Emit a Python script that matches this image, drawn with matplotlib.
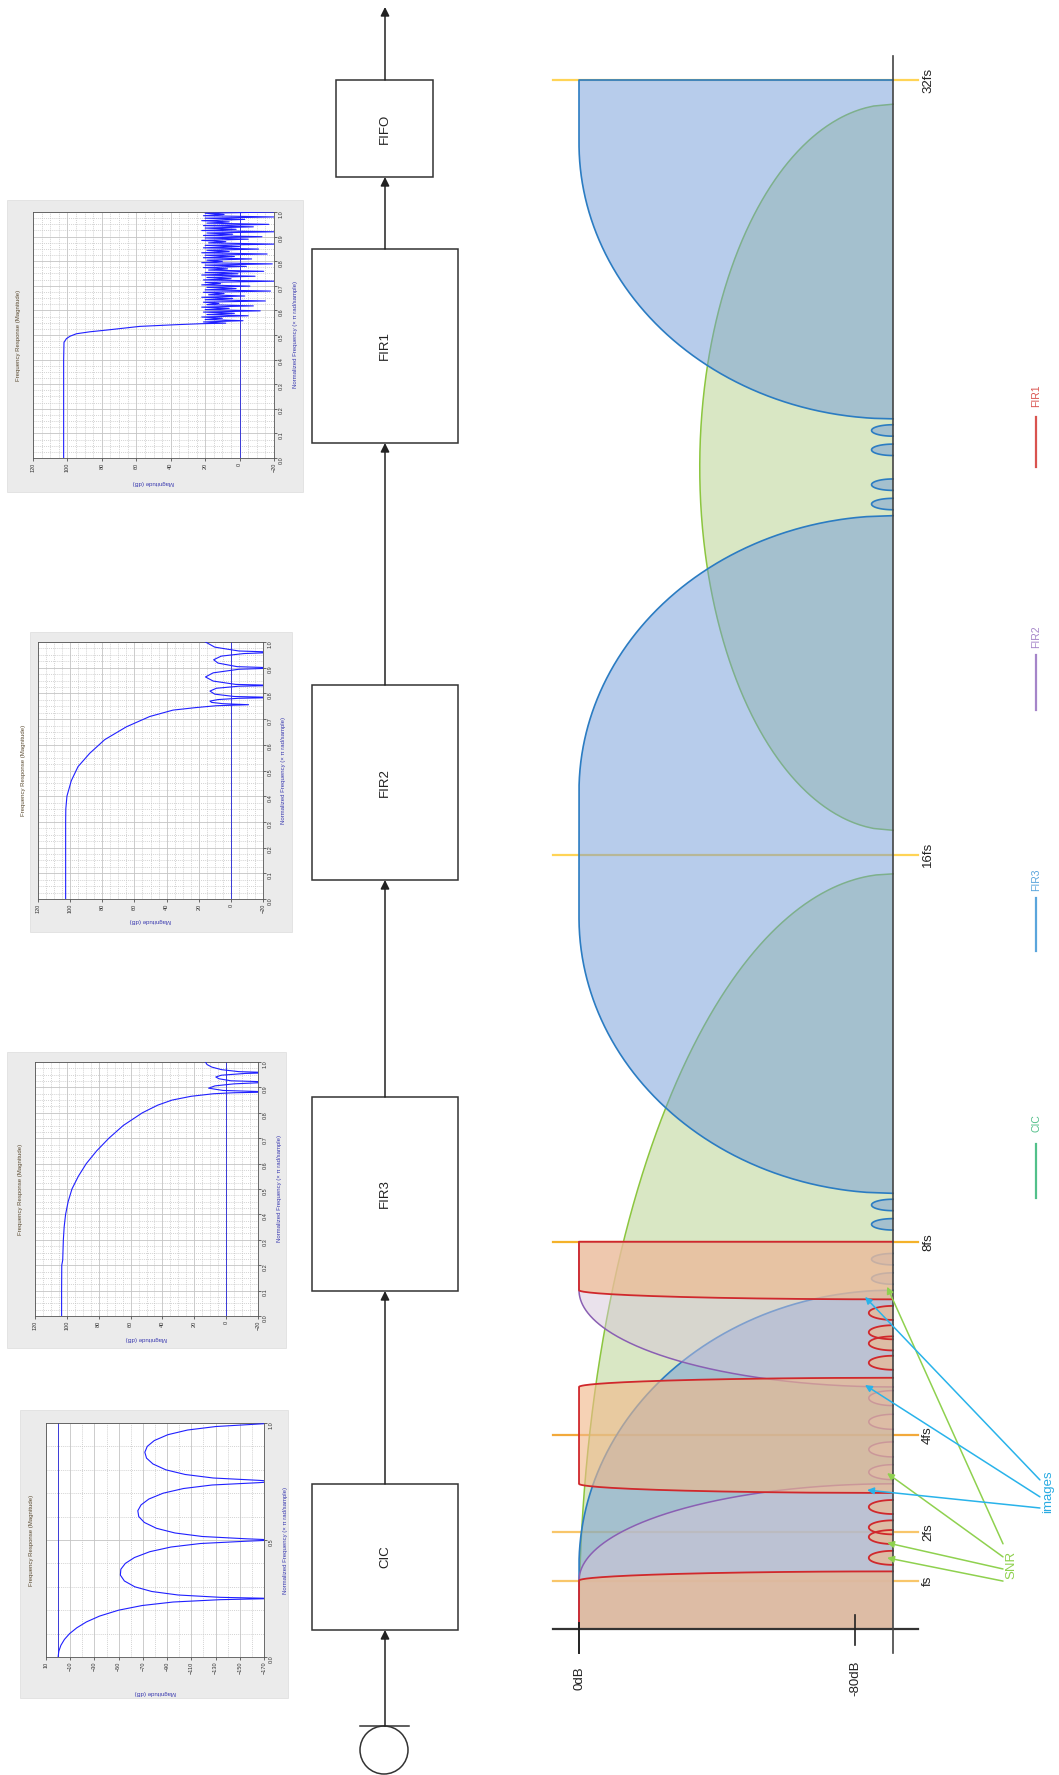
import numpy as np
import matplotlib
matplotlib.use("Agg")
import matplotlib.pyplot as plt
from matplotlib.patches import Rectangle, Circle
from matplotlib.ticker import FormatStrFormatter, MultipleLocator

plt.rcParams['font.family'] = ['Liberation Sans', 'DejaVu Sans']

W, H = 1059, 1775

# ---------------- spectrum sketch (frequency in fs, level in dB) ----------------
FLOOR = -91
freq_marks = [1, 2, 4, 8, 16, 32]
freq_labels = ['fs', '2fs', '4fs', '8fs', '16fs', '32fs']
freq_colors = ['#f8c66a', '#f8c66a', '#f2a93b', '#f4b22a', '#ffd456', '#ffd456']
level_marks = [0, -80]
level_labels = ['0dB', '-80dB']

# passband images: (centre, flat half-width, half-width at the floor)
cic_images = [(0, 0.0, 15.6)]
cic_sidelobe = (24.0, 7.5, -35)          # centre, half-width, peak level
fir3_images = [(0, 1.3, 7.0), (16, 1.3, 7.0), (32, 1.3, 7.0)]
fir2_images = [(0, 1.0, 3.0), (8, 1.0, 3.0)]
fir1_images = [(0, 1.0, 1.19), (4, 1.0, 1.19), (8, 1.0, 1.19)]
# small stopband lobes sitting on the floor
fir3_lobes = [7.24, 7.64, 8.36, 8.76, 23.24, 23.64, 24.36, 24.76]
fir2_lobes = [3.24, 3.71, 4.28, 4.77]
fir1_lobes = [1.47, 1.90, 2.10, 2.52, 5.50, 5.90, 6.13, 6.53]

# annotation arrows, points given as (frequency, level)
snr_tails = [(1.76, -122.9), (1.49, -122.9), (1.24, -122.9), (0.99, -122.9)]
snr_tips = [(7.07, -89.3), (3.22, -89.3), (1.78, -89.3), (1.47, -89.3)]
images_tails = [(3.08, -133.6), (2.73, -133.6), (2.50, -133.6)]
images_tips = [(6.86, -82.9), (5.04, -82.9), (2.87, -83.5)]

# ---------------- magnitude responses (normalised frequency, dB) ----------------
cic_freq = [0, .025, .05, .075, .1, .125, .15, .175, .2, .22, .235, .245, .25, .255, .265,
            .28, .3, .325, .35, .375, .4, .425, .45, .47, .485, .495, .5, .505, .515, .53,
            .55, .575, .6, .625, .65, .675, .7, .72, .735, .745, .75, .755, .765, .78, .8,
            .825, .85, .875, .9, .925, .95, .97, .985, 1.0]
cic_mag = [0, -0.6, -2.3, -5.2, -9.5, -15.5, -23.4, -34.3, -49.9, -69.4, -95, -134, -180, -134, -99,
           -77.3, -63.3, -54.7, -51.4, -51.8, -55.5, -63, -75.7, -93.2, -117.5, -156, -180, -156, -119, -96.5,
           -81.2, -71.2, -66.6, -65.8, -68.5, -74.9, -86.7, -103.5, -127, -165.6, -180, -165.6, -128, -104.9, -88.9,
           -78.3, -73, -71.6, -73.6, -79.4, -90.6, -106.9, -130.4, -180]

fir3_freq = [0, .1, .2, .22, .3, .35, .4, .45, .5, .55, .6, .65, .7, .75, .8, .83, .85, .865, .875, .879,
             .882, .888, .897, .906, .914, .921, .926, .934, .941, .948, .955, .958, .962, .97, .98, .99, 1.0]
fir3_mag = [103.3, 103.3, 103.2, 102.6, 102.2, 101.7, 100.8, 99.2, 96.8, 92.8, 87.8, 81.3, 73.6, 64.6, 52.6, 43, 34, 22, 8, -5,
            -30, 2, 11, 7, -5, -30, -3, 4.5, 6.5, 3, -12, -30, -8, 3, 9, 12, 13]

fir2_freq = [0, .1, .2, .3, .35, .4, .46, .515, .567, .62, .67, .71, .735, .745, .752, .756, .76, .765, .77, .776,
             .781, .784, .788, .797, .809, .82, .828, .831, .835, .848, .864, .88, .894, .899, .904, .918, .931,
             .945, .955, .96, .965, .98, 1.0]
fir2_mag = [102.8, 102.8, 102.8, 102.8, 102.7, 102, 99.3, 95.1, 87.8, 78.5, 65, 50.5, 36, 21.5, 9, -11, 5, 12, 13, 8,
            -5, -30, -2, 10, 13, 9, -5, -30, -3, 11, 15.8, 11, -5, -30, -4, 8, 10.7,
            6, -8, -30, -5, 10, 15.8]

fir1_pass_freq = [0, .1, .2, .3, .4, .47, .485, .495, .505, .513, .52, .528, .535, .542, .546]
fir1_pass_mag = [102.2, 102.2, 102.2, 102.2, 102.2, 102.0, 100.6, 98.5, 94.8, 87, 77.3, 67, 58, 36.6, 22]
fir1_ripple = [8, 21, -2, 20, 10, 22, -5, 19, 3, 21,
               -12, 20, 6, 22, -8, 19, 12, 21, -15, 20,
               4, 22, -3, 18, 9, 21, -18, 20, 2, 19,
               -6, 22, 11, 20, -20, 21, 5, 19, -9, 22,
               1, 20, -14, 18, 7, 21, -4, 20, -19, 22,
               10, 19, -7, 21, 3, 20, -16, 22, 6, 19,
               -11, 21, 0, 20, -20, 18, 8, 22, -5, 20,
               -13, 21, 4, 19, -20, 22, 2, 20, -8, 21,
               -17, 19, 6, 22, -3, 20, -20, 21, 9, 20,
               -20]

# ---------------- block diagram ----------------
blocks = ['CIC', 'FIR3', 'FIR2', 'FIR1', 'FIFO']
legend_names = ['FIR1', 'FIR2', 'FIR3', 'CIC']
legend_colors = ['#d9534f', '#a585c9', '#5aa5dc', '#52c08a']

fig = plt.figure(figsize=(W / 100, H / 100), dpi=100)
fig.patch.set_facecolor('white')

# pixel canvas for the block diagram, panels and legend
canvas = fig.add_axes([0, 0, 1, 1])
canvas.set_xlim(0, W)
canvas.set_ylim(H, 0)
canvas.axis('off')

# box geometry (x, top, width, height) in pixels
box_geom = [(312, 1484, 146, 146), (312, 1097, 146, 194), (312, 685, 146, 195),
            (312, 249, 146, 194), (336, 80, 97, 97)]
cx = 385
for name, (bx, by, bw, bh) in zip(blocks, box_geom):
    canvas.add_patch(Rectangle((bx, by), bw, bh, facecolor='white', edgecolor='#333333', lw=1.1, zorder=3))
    canvas.text(bx + bw / 2, by + bh / 2, name, rotation=90, ha='center', va='center',
                fontsize=9.5, color='#222222', zorder=4)

arrow_kw = dict(arrowstyle='-|>', color='#222222', lw=1.1, mutation_scale=13, shrinkA=0, shrinkB=0)
# input source
canvas.add_patch(Circle((cx - 1, 1750), 24, facecolor='white', edgecolor='#333333', lw=1.1, zorder=3))
canvas.plot([360, 409], [1726, 1726], color='#333333', lw=1.1, zorder=3)
canvas.annotate('', xy=(cx, 1630), xytext=(cx, 1726), arrowprops=arrow_kw, zorder=3)
for (bx0, by0, bw0, bh0), (bx1, by1, bw1, bh1) in zip(box_geom[:-1], box_geom[1:]):
    canvas.annotate('', xy=(cx, by1 + bh1), xytext=(cx, by0), arrowprops=arrow_kw, zorder=3)
canvas.annotate('', xy=(cx, 7), xytext=(cx, box_geom[-1][1]), arrowprops=arrow_kw, zorder=3)

# legend on the right
legend_text_y = [396, 637, 880, 1123]
legend_line_y = [(417, 467), (655, 710), (898, 951), (1144, 1198)]
for name, col, ty, (l0, l1) in zip(legend_names, legend_colors, legend_text_y, legend_line_y):
    canvas.text(1036, ty, name, rotation=90, ha='center', va='center', fontsize=7.5, color=col)
    canvas.plot([1036, 1036], [l0, l1], color=col, lw=1.6)


# ---------------- frequency response panels ----------------
def response_panel(panel_box, axes_box, freq, mag, xlim, xticks, xminor, ymajor, yminor,
                   label_gap):
    px, py, pw, ph = panel_box
    canvas.add_patch(Rectangle((px, py), pw, ph, facecolor='#ebebeb', edgecolor='#dddddd',
                               lw=0.5, zorder=0))
    axx, axy, axw, axh = axes_box
    ax = fig.add_axes([axx / W, 1 - (axy + axh) / H, axw / W, axh / H])
    ax.plot(mag, freq, color='#2020ff', lw=0.8, zorder=3)
    ax.axvline(0, color='#3a3ad8', lw=0.7, zorder=2)
    ax.set_xlim(xlim)
    ax.set_ylim(0, 1)
    ax.set_xticks(xticks)
    ax.xaxis.set_minor_locator(MultipleLocator(xminor))
    ax.yaxis.set_major_locator(MultipleLocator(ymajor))
    ax.yaxis.set_minor_locator(MultipleLocator(yminor))
    ax.yaxis.set_major_formatter(FormatStrFormatter('%.1f'))
    ax.yaxis.tick_right()
    ax.grid(which='major', color='#c4c4c4', lw=0.6, ls='-')
    ax.grid(which='minor', color='#c4c4c4', lw=0.5, ls=(0, (1.5, 1.5)))
    ax.tick_params(which='both', labelsize=4, length=2, width=0.5, pad=1.5, colors='#333333')
    ax.tick_params(axis='x', which='minor', length=0)
    ax.tick_params(axis='y', which='minor', length=0)
    for lab in ax.get_xticklabels() + ax.get_yticklabels():
        lab.set_rotation(90)
    for sp in ax.spines.values():
        sp.set_color('#555555')
        sp.set_linewidth(0.6)
    ax.text(-14 / axw, 0.5, 'Frequency Response (Magnitude)', transform=ax.transAxes,
            rotation=90, ha='center', va='center', fontsize=4.3, color='#5a4a30')
    ax.text(0.5, -label_gap / axh, 'Magnitude (dB)', transform=ax.transAxes,
            rotation=180, ha='center', va='center', fontsize=4.3, color='#3a3ab0')
    ax.text(1 + 21 / axw, 0.5, 'Normalized Frequency (\u00d7 \u03c0 rad/sample)',
            transform=ax.transAxes, rotation=90, ha='center', va='center',
            fontsize=4.3, color='#3a3ab0')
    return ax


fir_mag_ticks = [120, 100, 80, 60, 40, 20, 0, -20]
cic_mag_ticks = [10, -10, -30, -50, -70, -90, -110, -130, -150, -170]

fir1_freq = fir1_pass_freq + list(np.linspace(0.548, 1.0, len(fir1_ripple)))
fir1_mag = fir1_pass_mag + fir1_ripple

response_panel((7, 200, 296, 292), (33, 212, 241, 246), fir1_freq, fir1_mag,
               (120, -20), fir_mag_ticks, 5, 0.1, 0.025, 25)
response_panel((30, 632, 262, 300), (38, 642, 225, 257), fir2_freq, fir2_mag,
               (120, -20), fir_mag_ticks, 5, 0.1, 0.025, 22)
response_panel((7, 1052, 279, 296), (35, 1062, 223, 254), fir3_freq, fir3_mag,
               (120, -20), fir_mag_ticks, 5, 0.1, 0.025, 22)
response_panel((20, 1410, 268, 288), (46, 1423, 218, 234), cic_freq, cic_mag,
               (10, -170), cic_mag_ticks, 10, 0.5, 0.1, 36)

# ---------------- spectrum axes ----------------
DB0_PX, DB80_PX = 579, 855
F0_PX, F32_PX = 1629, 80
px_db = (DB80_PX - DB0_PX) / 80
px_fs = (F0_PX - F32_PX) / 32
spec = fig.add_axes([0, 0, 1, 1])
spec.set_xlim(DB0_PX / px_db, (DB0_PX - W) / px_db)
spec.set_ylim((F0_PX - H) / px_fs, F0_PX / px_fs)
spec.axis('off')

LINE_L, LINE_R = 7.5, -98.3
F_TOP = {'cic': 32, 'fir3': 32, 'fir2': 8, 'fir1': 8}


def image_outline(c, w0, w1, hi):
    f = np.linspace(max(c - w1, 0), min(c + w1, hi), 700)
    u = np.clip((np.abs(f - c) - w0) / (w1 - w0), 0, 1)
    lev = FLOOR - FLOOR * np.sqrt(1 - u ** 2)
    return np.r_[FLOOR, lev, FLOOR], np.r_[f[0], f, f[-1]]


def sidelobe_outline(c, hw, peak):
    f = np.linspace(c - hw, c + hw, 400)
    lev = FLOOR + (peak - FLOOR) * np.sqrt(np.clip(1 - ((f - c) / hw) ** 2, 0, 1))
    return lev, f


def lobe_outline(fc, half_h, depth):
    t = np.linspace(-np.pi / 2, np.pi / 2, 60)
    return FLOOR + depth * np.cos(t), fc + half_h * np.sin(t)


layers = [
    ('cic', cic_images, [], '#b5d08a', 0.5, '#8cc63f', 1.1, None),
    ('fir3', fir3_images, fir3_lobes, '#719bd9', 0.5, '#2b7cc2', 1.2, (0.118, 6.2)),
    ('fir2', fir2_images, fir2_lobes, '#d6c5da', 0.49, '#8a5fb3', 1.1, (0.155, 7.0)),
    ('fir1', fir1_images, fir1_lobes, '#f1b98b', 0.63, '#d0282c', 1.3, (0.145, 7.0)),
]
for i, (key, images, lobes, fc, alpha, lc, lw, lobe_size) in enumerate(layers):
    z = 3 + i
    shapes = [image_outline(c, w0, w1, F_TOP[key]) for c, w0, w1 in images]
    if key == 'cic':
        shapes.append(sidelobe_outline(*cic_sidelobe))
    for fcen in lobes:
        shapes.append(lobe_outline(fcen, *lobe_size))
    for xs, ys in shapes:
        spec.fill(xs, ys, facecolor=fc, alpha=alpha, edgecolor='none', zorder=z)
        spec.plot(xs, ys, color=lc, lw=lw, zorder=z + 0.5, solid_joinstyle='round')

# frequency markers
for fm, lab, col in zip(freq_marks, freq_labels, freq_colors):
    spec.plot([LINE_L, LINE_R], [fm, fm], color=col, lw=1.6, zorder=2)
    spec.text(-101.2, fm, lab, rotation=90, ha='center', va='center', fontsize=9.5, color='#222222')

# axes of the sketch
spec.plot([LINE_L, LINE_R], [0, 0], color='#333333', lw=1.6, zorder=20)
spec.plot([FLOOR, FLOOR], [-0.5, 32.5], color='#444444', lw=1.2, zorder=20)
spec.plot([0, 0], [-0.5, 0.12], color='#222222', lw=1.4, zorder=20)
spec.plot([-80, -80], [-0.33, 0.29], color='#222222', lw=1.2, zorder=20)
for lv, lab in zip(level_marks, level_labels):
    spec.text(lv, -1.01, lab, rotation=90, ha='center', va='center', fontsize=9.5, color='#222222')

# SNR and image annotations
for tail, tip in zip(snr_tails, snr_tips):
    spec.annotate('', xy=(tip[1], tip[0]), xytext=(tail[1], tail[0]), zorder=21,
                  arrowprops=dict(arrowstyle='-|>', color='#8fd14f', lw=1.1, mutation_scale=10,
                                  shrinkA=0, shrinkB=0))
for tail, tip in zip(images_tails, images_tips):
    spec.annotate('', xy=(tip[1], tip[0]), xytext=(tail[1], tail[0]), zorder=21,
                  arrowprops=dict(arrowstyle='-|>', color='#29b3ea', lw=1.1, mutation_scale=10,
                                  shrinkA=0, shrinkB=0))
spec.text(-125.2, 1.32, 'SNR', rotation=90, ha='center', va='center', fontsize=9.5, color='#8fd14f')
spec.text(-135.9, 2.83, 'images', rotation=90, ha='center', va='center', fontsize=9.5, color='#29abe2')

fig.savefig('out.png', dpi=100, facecolor='white')
